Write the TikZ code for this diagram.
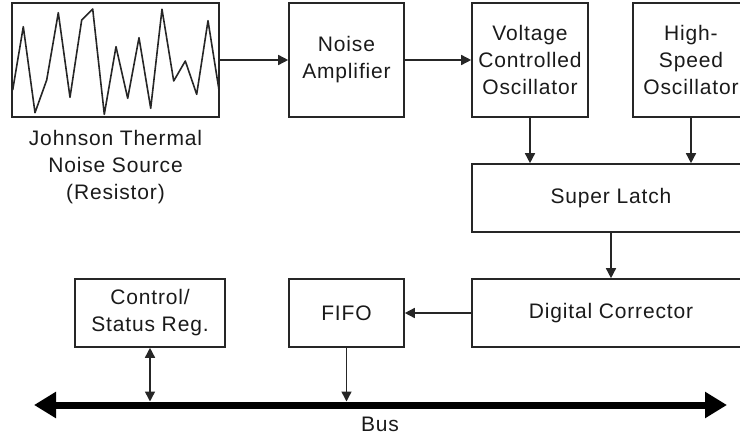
\documentclass[tikz,border=0pt]{standalone}
\usepackage{fontspec}
\setmainfont[LetterSpace=4]{Liberation Sans}
\usepackage{xcolor}
\usepackage{tikz}
\usetikzlibrary{arrows.meta, positioning, calc}
\definecolor{linegray}{HTML}{262626}
\definecolor{inkgray}{HTML}{1A1A1A}

\begin{document}
\begin{tikzpicture}[x=1pt, y=-1pt, >={Triangle[length=10pt, width=10pt]},
    block/.style={draw=linegray, line width=1.6pt, inner sep=0pt, align=center,
        text=inkgray, font=\fontsize{21}{27}\selectfont},
    tag/.style={inner sep=0pt, align=center, text=inkgray, font=\fontsize{21}{27}\selectfont},
    wire/.style={linegray, line width=1.5pt}]
    \useasboundingbox (0,0) rectangle (740,436);
    \clip (0,0) rectangle (740,436);
    % Noise source
    \node[block, minimum width=207, minimum height=114] (noise) at (115.5,60) {};
    \draw[linegray, line width=1.6pt, line join=round] plot coordinates {
        (12.7,90) (23.3,26.7) (35,112.7) (46.7,80) (58.3,12.7) (70,97.3)
        (81.7,20) (92.7,9) (104.3,114.3) (116,46.7) (127.7,98.3) (139,37.7)
        (150.7,108.3) (162,9.3) (173.7,81) (185.3,61) (196.7,94.3) (208,20.7) (219,90)};
    \node[tag, anchor=north] (srclabel) at (115.5,130) {Johnson Thermal\\Noise Source\\(Resistor)};
    % Top row
    \node[block, minimum width=115, minimum height=114] (amp) at (346.5,60) {Noise\\Amplifier};
    \node[block, minimum width=116, minimum height=114] (vco) at (530,60) {Voltage\\Controlled\\Oscillator};
    \node[block, minimum width=116, minimum height=114] (hso) at (691,60) {High-\\Speed\\Oscillator};
    % Latch and corrector
    \node[block, minimum width=278, minimum height=68] (latch) at (611,198) {Super Latch};
    \node[block, minimum width=278, minimum height=68] (corr) at (611,313) {Digital Corrector};
    % Bottom row
    \node[block, minimum width=115, minimum height=68] (fifo) at (346.5,313) {FIFO};
    \node[block, minimum width=150, minimum height=68] (ctrl) at (150,313) {Control/\\Status Reg.};
    % Bus
    \coordinate (busL) at (34,405);
    \coordinate (busR) at (727,405);
    \draw[line width=7pt, {Triangle[length=22pt, width=25pt]}-{Triangle[length=22pt, width=25pt]}] (busL) -- (busR);
    \node[tag] (buslabel) at (380,424.5) {Bus};
    % Signal path
    \draw[->, wire] (noise.east) -- (amp.west);
    \draw[->, wire] (amp.east) -- (vco.west);
    \draw[->, wire] (vco.south) -- (vco.south |- latch.north);
    \draw[->, wire] (hso.south) -- (hso.south |- latch.north);
    \draw[->, wire] (latch.south) -- (corr.north);
    \draw[->, wire] (corr.west) -- (fifo.east);
    \draw[->, wire, shorten >=3.5pt] (fifo.south) -- (fifo.south |- busL);
    \draw[<->, wire, shorten >=3.5pt] (ctrl.south) -- (ctrl.south |- busL);
\end{tikzpicture}
\end{document}
